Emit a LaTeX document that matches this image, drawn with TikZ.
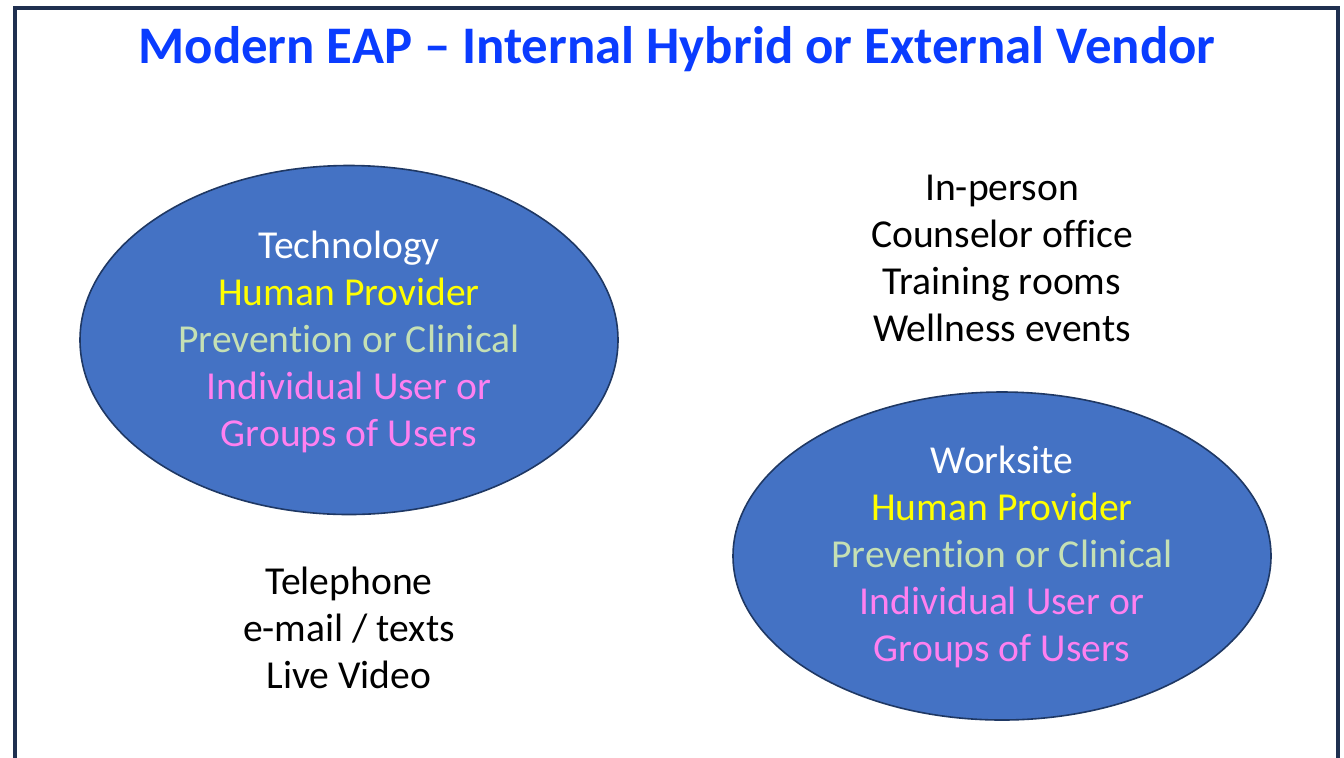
\documentclass[tikz,border=0pt]{standalone}
\usepackage{fontspec}
\setmainfont[Ligatures={NoCommon}]{Carlito}
\usetikzlibrary{shapes.geometric}

\definecolor{framec}{HTML}{1F3050}
\definecolor{titlec}{HTML}{0A3CFF}
\definecolor{ovalc}{HTML}{4472C4}
\definecolor{ovalb}{HTML}{1F3864}
\definecolor{provc}{HTML}{FFFF00}
\definecolor{prevc}{HTML}{C5E0B4}
\definecolor{userc}{HTML}{FF80F0}

\tikzset{
    oval/.style={ellipse, fill=ovalc, draw=ovalb, line width=0.8pt, inner sep=0pt},
    txt/.style={align=center, font=\fontsize{19.8}{23.5}\selectfont}
}

\begin{document}
\begin{tikzpicture}[x=0.5pt, y=-0.5pt]
        \useasboundingbox (0, 0) rectangle (1344, 757);
        \clip (0, 0) rectangle (1344, 757);
        \draw[framec, line width=2pt] (15, 8) rectangle (1338, 820);

        \node[font=\fontsize{26.4}{30}\selectfont\bfseries, text=titlec] (title) at (677, 49) {Modern EAP -- Internal Hybrid or External Vendor};

        \node[oval, minimum width=538*0.5pt, minimum height=349*0.5pt] (tech) at (349, 340) {};
        \node[txt, text=white] (techtxt) at (349, 342) {Technology\\
            \textcolor{provc}{Human Provider}\\
            \textcolor{prevc}{Prevention or Clinical}\\
            \textcolor{userc}{Individual User or}\\
            \textcolor{userc}{Groups of Users}};

        \node[oval, minimum width=538*0.5pt, minimum height=328*0.5pt] (site) at (1002, 556) {};
        \node[txt, text=white] (sitetxt) at (1002, 557) {Worksite\\
            \textcolor{provc}{Human Provider}\\
            \textcolor{prevc}{Prevention or Clinical}\\
            \textcolor{userc}{Individual User or}\\
            \textcolor{userc}{Groups of Users}};

        \node[txt] (inperson) at (1002, 258) {In-person\\Counselor office\\Training rooms\\Wellness events};
        \node[txt] (remote) at (349, 628) {Telephone\\e-mail / texts\\Live Video};
    \end{tikzpicture}
\end{document}
